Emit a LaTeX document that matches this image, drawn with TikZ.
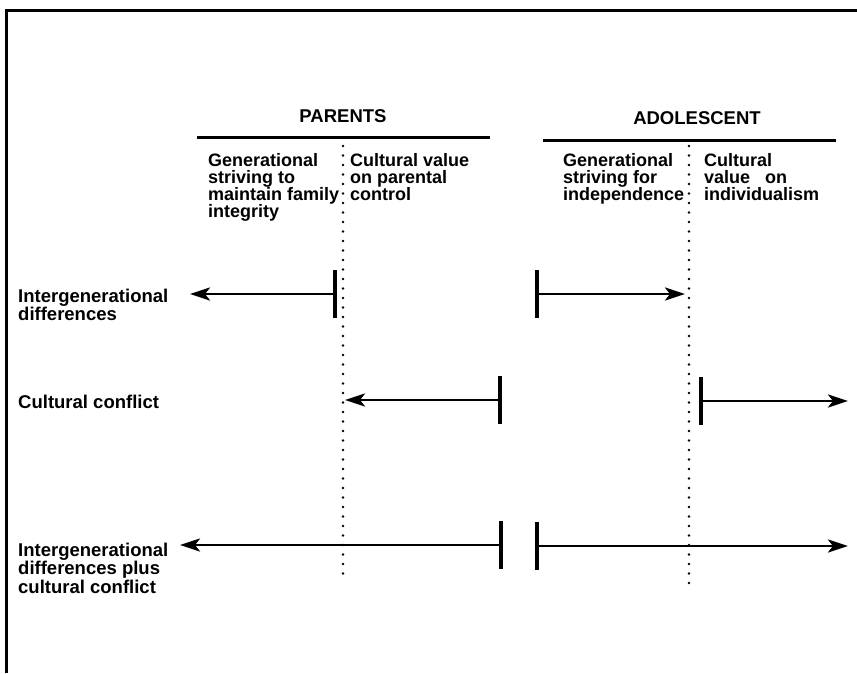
\documentclass[tikz,border=0pt]{standalone}
\usepackage{fontspec}
\setmainfont{Liberation Sans}
\usetikzlibrary{arrows.meta,positioning}

\begin{document}
\begin{tikzpicture}[x=1pt,y=-1pt,
    txt/.style={font=\fontsize{18.5}{17.2}\selectfont\bfseries, inner sep=0pt, align=left, anchor=north west},
    coltxt/.style={txt, font=\fontsize{18}{17.2}\selectfont\bfseries},
    head/.style={font=\fontsize{18.5}{17}\selectfont\bfseries, inner sep=0pt, anchor=base},
    divider/.style={line width=2.6pt, dash pattern=on 0pt off 9.5pt, line cap=round},
    conn/.style={line width=2.8pt, {Stealth[length=20pt,width=13pt,inset=5pt]}-{Bar[width=48pt,line width=3.8pt]}}]

        \useasboundingbox (0,0) rectangle (857,673);

        % Frame and headings
        \draw[line width=3pt] (6,673) -- (6,10) -- (857,10);
        \node[head] (parents) at (343,122) {PARENTS};
        \node[head] (adol) at (697,124) {ADOLESCENT};
        \draw[line width=3pt] (197,137) -- (490,137);
        \draw[line width=3pt] (543,140) -- (836,140);

        % Column texts
        \node[coltxt] (pgen) at (208,153) {Generational\\striving to\\maintain family\\integrity};
        \node[coltxt] (pval) at (350,153) {Cultural value\\on parental\\control};
        \node[coltxt] (agen) at (563,153) {Generational\\striving for\\independence};
        \node[coltxt] (aval) at (704,153) {Cultural\\value~~~on\\individualism};

        \draw[divider] (343,146) -- (343,582);
        \draw[divider] (689,146) -- (689,585);

        % Row labels
        \node[txt] (rowig) at (18,289) {Intergenerational\\differences};
        \node[txt] (rowcc) at (18,395) {Cultural conflict};
        \node[txt] (rowboth) at (18,543) {Intergenerational\\differences plus\\cultural conflict};

        % Arrow ends
        \coordinate (igL) at (337,294);  \coordinate (igLt) at (190,294);
        \coordinate (igR) at (535,294);  \coordinate (igRt) at (685,294);
        \coordinate (ccL) at (502,400);  \coordinate (ccLt) at (345,400);
        \coordinate (ccR) at (699,401);  \coordinate (ccRt) at (848,401);
        \coordinate (bL) at (503,545);   \coordinate (bLt) at (180,545);
        \coordinate (bR) at (535,546);   \coordinate (bRt) at (848,546);

        \draw[conn] (igLt) -- (igL);
        \draw[conn] (igRt) -- (igR);
        \draw[conn] (ccLt) -- (ccL);
        \draw[conn] (ccRt) -- (ccR);
        \draw[conn] (bLt) -- (bL);
        \draw[conn] (bRt) -- (bR);
    \end{tikzpicture}
\end{document}
